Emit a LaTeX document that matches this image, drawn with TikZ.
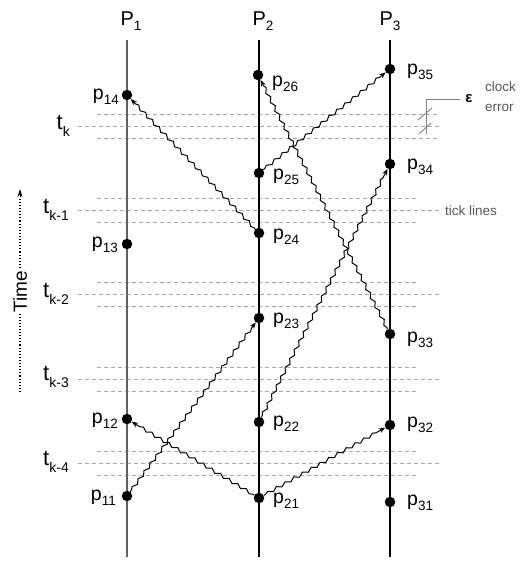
\documentclass[tikz,border=0pt]{standalone}
\usepackage{fontspec}
\setmainfont{Liberation Sans}
\usetikzlibrary{decorations.pathmorphing,arrows.meta}
\newcommand\lsub[1]{\raisebox{-0.45ex}{\fontsize{13.5}{13.5}\selectfont #1}}
\newcommand\tsub[1]{\raisebox{-0.6ex}{\fontsize{14}{14}\selectfont #1}}
\definecolor{tickgray}{HTML}{A8A8A8}
\definecolor{notegray}{HTML}{555555}
\begin{document}
\begin{tikzpicture}[x=1pt,y=-1pt,
  ev/.style={circle,fill=black,inner sep=0pt,minimum size=10.5pt},
  lbl/.style={font=\fontsize{19.5}{19.5}\selectfont,inner sep=0pt},
  tlbl/.style={font=\fontsize{22}{22}\selectfont,inner sep=0pt,anchor=east},
  tickline/.style={draw=tickgray,dash pattern=on 4pt off 3pt,line width=0.9pt},
  msg/.style={decorate,decoration={snake,amplitude=1.5pt,segment length=10pt,pre length=2pt,post length=6pt},-{Stealth[length=6.5pt,width=5pt]},line width=1pt},
  note/.style={font=\fontsize{13.5}{13.5}\selectfont,text=notegray,inner sep=0pt,anchor=west}]
\useasboundingbox (0,0) rectangle (520,561);

% tick lines
\foreach \y/\e in {126/438,210/416,294/416,379/416,463/416}{
  \draw[tickline] (97,\y-12) -- (\e,\y-12);
  \draw[tickline] (78,\y) -- (439,\y);
  \draw[tickline] (97,\y+12) -- (\e,\y+12);
}
\node[tlbl] (tk) at (70,126) {t\tsub{k}};
\node[tlbl] (tk1) at (69,210) {t\tsub{k-1}};
\node[tlbl] (tk2) at (69,294) {t\tsub{k-2}};
\node[tlbl] (tk3) at (69,377) {t\tsub{k-3}};
\node[tlbl] (tk4) at (69,462) {t\tsub{k-4}};

% process lines
\coordinate (a1) at (127,40); \coordinate (b1) at (127,557);
\coordinate (a2) at (259,40); \coordinate (b2) at (259,557);
\coordinate (a3) at (390,40); \coordinate (b3) at (390,557);
\draw[line width=1.7pt,draw=black!62] (a1) -- (b1);
\draw[line width=1.4pt] (a2) -- (b2);
\draw[line width=1.4pt] (a3) -- (b3);
\node[lbl,font=\fontsize{20}{20}\selectfont] (P1) at (131,21) {P\lsub{1}};
\node[lbl,font=\fontsize{20}{20}\selectfont] (P2) at (263,21) {P\lsub{2}};
\node[lbl,font=\fontsize{20}{20}\selectfont] (P3) at (390,21) {P\lsub{3}};

% events
\node[ev] (p14) at (127,95) {};
\node[ev] (p13) at (127,244) {};
\node[ev] (p12) at (127,419) {};
\node[ev] (p11) at (127,496) {};
\node[ev] (p26) at (258,75) {};
\node[ev] (p25) at (259,173) {};
\node[ev] (p24) at (259,233) {};
\node[ev] (p23) at (259,318) {};
\node[ev] (p22) at (259,422) {};
\node[ev] (p21) at (259,498) {};
\node[ev] (p35) at (390,69) {};
\node[ev] (p34) at (390,164) {};
\node[ev] (p33) at (390,334) {};
\node[ev] (p32) at (390,425) {};
\node[ev] (p31) at (390,502) {};

% event labels
\node[lbl,anchor=east] (l14) at (119,97) {p\lsub{14}};
\node[lbl,anchor=east] (l13) at (118,245) {p\lsub{13}};
\node[lbl,anchor=east] (l12) at (118,421) {p\lsub{12}};
\node[lbl,anchor=east] (l11) at (116,498) {p\lsub{11}};
\node[lbl,anchor=west] (l26) at (272,84) {p\lsub{26}};
\node[lbl,anchor=west] (l25) at (273,177) {p\lsub{25}};
\node[lbl,anchor=west] (l24) at (273,237) {p\lsub{24}};
\node[lbl,anchor=west] (l23) at (273,321) {p\lsub{23}};
\node[lbl,anchor=west] (l22) at (273,424) {p\lsub{22}};
\node[lbl,anchor=west] (l21) at (273,501) {p\lsub{21}};
\node[lbl,anchor=west] (l35) at (407,72) {p\lsub{35}};
\node[lbl,anchor=west] (l34) at (407,167) {p\lsub{34}};
\node[lbl,anchor=west] (l33) at (407,340) {p\lsub{33}};
\node[lbl,anchor=west] (l32) at (407,425) {p\lsub{32}};
\node[lbl,anchor=west] (l31) at (407,503) {p\lsub{31}};

% messages
\draw[msg] (p11) -- (p23);
\draw[msg] (p21) -- (p12);
\draw[msg] (p21) -- (p32);
\draw[msg] (p22) -- (p34);
\draw[msg] (p33) -- (p26);
\draw[msg] (p24) -- (p14);
\draw[msg] (p25) -- (p35);

% time axis
\coordinate (tb) at (20,392);
\coordinate (tm) at (20,197);
\coordinate (tt) at (20,189);
\draw[dotted,line width=1.1pt] (tb) -- (tm);
\draw[-{Stealth[length=8pt,width=5pt]},line width=1pt] (tm) -- (tt);
\node[fill=white,inner sep=1pt,rotate=90,font=\fontsize{19}{19}\selectfont] (time) at (20,292) {Time};

% clock error annotation
\coordinate (c1) at (460,99);
\coordinate (c2) at (426,99);
\coordinate (c3) at (426,134);
\draw[draw=gray,line width=0.9pt] (c1) -- (c2) -- (c3);
\coordinate (s1a) at (418,120); \coordinate (s1b) at (432,108);
\coordinate (s2a) at (419,134); \coordinate (s2b) at (431,123);
\draw[draw=gray,line width=0.9pt] (s1a) -- (s1b);
\draw[draw=gray,line width=0.9pt] (s2a) -- (s2b);
\node[font=\fontsize{15}{15}\selectfont\bfseries,inner sep=0pt] (eps) at (469,99) {ε};
\node[note] (clock) at (485,87) {clock};
\node[note] (error) at (485,108) {error};
\node[note] (ticks) at (445,211) {tick lines};
\end{tikzpicture}
\end{document}
